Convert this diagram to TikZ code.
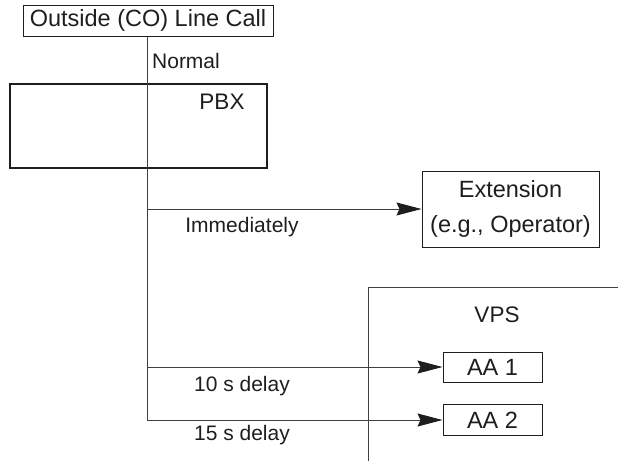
\documentclass[tikz,border=0pt]{standalone}
\usepackage{fontspec}
\setmainfont{Liberation Sans}
\usetikzlibrary{arrows.meta}
\definecolor{ink}{HTML}{1E1E1E}
\tikzset{
  boxed/.style={draw=ink, line width=1pt, inner sep=0pt, text=ink, font=\fontsize{23.5}{35}\selectfont, align=center},
  lbl/.style={inner sep=0pt, text=ink, font=\fontsize{21}{25}\selectfont},
  ttl/.style={inner sep=0pt, text=ink, font=\fontsize{22.5}{27}\selectfont},
  wire/.style={draw=ink!85, line width=1pt},
  arr/.style={wire, -{Stealth[length=25pt,width=13pt,inset=3pt,color=ink]}}
}
\begin{document}
\begin{tikzpicture}[x=1pt,y=-1pt]
\useasboundingbox (0,0) rectangle (618,461);
% top call box
\node[boxed, minimum width=250pt, minimum height=31pt] (call) at (148,20.5) {Outside (CO) Line Call};
% PBX box
\node[draw=ink, line width=2pt, minimum width=257pt, minimum height=84pt, inner sep=0pt] (pbx) at (138.5,126) {};
\node[ttl] (pbxl) at (222,102) {PBX};
\node[lbl] (normal) at (186,61) {Normal};
% VPS region
\coordinate (vpsR) at (618,287);
\coordinate (vpsC) at (368,287);
\coordinate (vpsB) at (368,461);
\draw[wire] (vpsR) -- (vpsC) -- (vpsB);
\node[ttl] (vpsl) at (497,315) {VPS};
% targets
\node[boxed, minimum width=177pt, minimum height=76pt] (ext) at (510.5,209) {Extension\\(e.g., Operator)};
\node[boxed, minimum width=99pt, minimum height=30pt] (aa1) at (492.5,367) {AA 1};
\node[boxed, minimum width=99pt, minimum height=31pt] (aa2) at (492.5,420) {AA 2};
% trunk
\coordinate (b0) at (147,209);
\coordinate (b1) at (147,367);
\coordinate (b2) at (147,420);
\draw[wire] (call.south -| b0) -- (b2);
\draw[arr] (b0) -- (ext.west);
\draw[arr] (b1) -- (aa1.west);
\draw[arr] (b2) -- (aa2.west);
% labels
\node[lbl] (imm) at (242,227) {Immediately};
\node[lbl] (d10) at (242,386) {10 s delay};
\node[lbl] (d15) at (242,435) {15 s delay};
\end{tikzpicture}
\end{document}
